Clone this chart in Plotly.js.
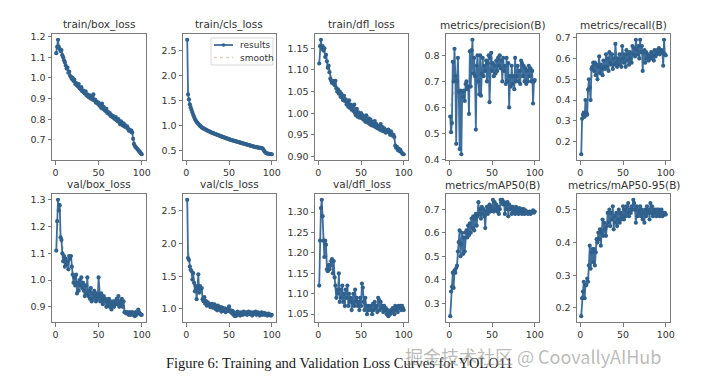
<!DOCTYPE html>
<html><head><meta charset="utf-8">
<script src="https://cdn.plot.ly/plotly-3.0.1.min.js"></script>
<style>html,body{margin:0;padding:0;background:#fff;} #chart{width:720px;height:381px;}</style>
</head><body><div id="chart"></div>
<script>
const epochs = Array.from({length: 100}, (_, i) => i + 1);

const trainBoxLoss = [
1.120,1.150,1.185,1.150,1.140,1.130,1.135,1.110,1.100,1.085,
1.075,1.060,1.045,1.050,1.025,1.030,1.010,1.005,0.995,1.000,
0.985,0.990,0.970,0.975,0.965,0.960,0.970,0.950,0.945,0.955,
0.935,0.940,0.930,0.925,0.935,0.915,0.920,0.910,0.905,0.915,
0.900,0.905,0.895,0.920,0.890,0.895,0.880,0.885,0.875,0.880,
0.865,0.870,0.855,0.875,0.850,0.860,0.845,0.840,0.850,0.830,
0.835,0.825,0.830,0.815,0.820,0.810,0.815,0.805,0.800,0.810,
0.795,0.790,0.800,0.785,0.775,0.790,0.775,0.770,0.780,0.765,
0.770,0.760,0.765,0.755,0.745,0.750,0.740,0.745,0.735,0.705,
0.680,0.670,0.665,0.660,0.655,0.650,0.645,0.640,0.635,0.630];

const trainClsLoss = [
2.72,1.62,1.52,1.42,1.36,1.31,1.26,1.21,1.17,1.13,
1.10,1.07,1.05,1.03,1.01,0.99,0.98,0.96,0.95,0.94,
0.93,0.92,0.91,0.905,0.89,0.885,0.875,0.87,0.86,0.85,
0.845,0.84,0.83,0.825,0.82,0.81,0.805,0.80,0.79,0.785,
0.78,0.77,0.765,0.76,0.755,0.745,0.74,0.735,0.73,0.72,
0.715,0.71,0.705,0.70,0.695,0.69,0.685,0.68,0.675,0.67,
0.665,0.66,0.655,0.65,0.645,0.64,0.635,0.63,0.625,0.62,
0.615,0.61,0.605,0.60,0.595,0.59,0.585,0.58,0.575,0.57,
0.565,0.565,0.56,0.555,0.555,0.55,0.55,0.545,0.54,0.52,
0.49,0.465,0.45,0.44,0.435,0.43,0.43,0.425,0.42,0.42];

const trainDflLoss = [
1.115,1.155,1.170,1.150,1.155,1.145,1.150,1.130,1.135,1.120,
1.105,1.110,1.095,1.080,1.075,1.070,1.075,1.068,1.065,1.075,
1.058,1.050,1.055,1.045,1.050,1.038,1.045,1.035,1.030,1.040,
1.028,1.032,1.020,1.025,1.015,1.030,1.012,1.020,1.008,1.015,
1.005,1.020,1.000,0.995,1.010,0.992,1.002,0.990,0.998,1.000,
0.988,0.995,0.985,0.990,0.980,0.995,0.982,0.978,0.988,0.975,
0.985,0.972,0.980,0.975,0.970,0.982,0.968,0.975,0.965,0.970,
0.968,0.962,0.975,0.960,0.968,0.958,0.965,0.962,0.955,0.960,
0.958,0.962,0.955,0.950,0.958,0.952,0.948,0.950,0.945,0.925,
0.920,0.922,0.915,0.918,0.912,0.915,0.910,0.908,0.905,0.905];

const precisionB = [
0.565,0.505,0.540,0.775,0.700,0.825,0.720,0.460,0.700,0.790,
0.660,0.440,0.665,0.420,0.660,0.640,0.665,0.625,0.690,0.700,
0.670,0.680,0.575,0.815,0.680,0.820,0.860,0.730,0.790,0.720,
0.515,0.760,0.800,0.700,0.650,0.800,0.645,0.730,0.790,0.720,
0.760,0.740,0.780,0.700,0.770,0.800,0.620,0.790,0.810,0.740,
0.770,0.720,0.760,0.730,0.780,0.740,0.790,0.760,0.800,0.750,
0.780,0.700,0.790,0.740,0.760,0.690,0.790,0.700,0.770,0.600,
0.720,0.680,0.760,0.690,0.720,0.670,0.790,0.700,0.720,0.760,
0.700,0.740,0.690,0.780,0.770,0.720,0.760,0.700,0.750,0.690,
0.740,0.700,0.760,0.720,0.750,0.700,0.740,0.615,0.700,0.705];

const recallB = [
0.140,0.310,0.330,0.340,0.320,0.400,0.340,0.330,0.450,0.500,
0.460,0.400,0.550,0.560,0.580,0.540,0.580,0.520,0.570,0.500,
0.560,0.610,0.530,0.570,0.550,0.520,0.590,0.560,0.550,0.620,
0.560,0.600,0.540,0.630,0.580,0.570,0.620,0.550,0.600,0.570,
0.670,0.580,0.560,0.600,0.570,0.620,0.590,0.560,0.660,0.600,
0.580,0.620,0.560,0.640,0.590,0.620,0.570,0.630,0.600,0.580,
0.660,0.620,0.650,0.610,0.690,0.640,0.620,0.660,0.600,0.690,
0.630,0.660,0.540,0.630,0.640,0.580,0.630,0.600,0.620,0.590,
0.610,0.600,0.630,0.600,0.620,0.590,0.640,0.610,0.620,0.640,
0.630,0.650,0.620,0.640,0.640,0.630,0.565,0.690,0.620,0.615];

const valBoxLoss = [
1.110,1.220,1.300,1.260,1.280,1.160,1.150,1.100,1.070,1.090,
1.050,1.080,1.060,1.070,1.040,1.090,1.080,1.090,1.050,1.020,
0.990,1.010,0.980,1.020,0.950,0.990,0.960,1.000,0.980,1.010,
0.970,0.990,0.960,0.940,0.980,0.950,1.010,0.940,0.960,0.930,
0.970,0.920,0.950,0.930,0.960,0.940,0.920,0.950,0.930,1.010,
0.940,0.920,0.950,0.930,0.910,0.940,0.920,0.930,0.900,0.920,
0.910,0.930,0.900,0.920,0.890,0.910,0.920,0.900,0.920,0.910,
0.930,0.910,0.940,0.900,0.920,0.910,0.930,0.900,0.920,0.880,
0.880,0.875,0.880,0.875,0.870,0.880,0.870,0.875,0.880,0.870,
0.875,0.865,0.880,0.870,0.875,0.890,0.880,0.875,0.870,0.870];

const valClsLoss = [
2.670,1.780,1.750,1.650,1.600,1.580,1.450,1.550,1.400,1.270,
1.350,1.150,1.320,1.530,1.250,1.350,1.300,1.320,1.150,1.120,
1.180,1.080,1.120,1.050,1.100,1.060,1.080,1.030,1.060,1.080,
1.020,1.050,1.070,1.000,1.040,0.980,1.050,1.010,0.990,1.030,
0.960,1.020,0.990,0.970,1.010,0.950,0.990,1.000,0.970,1.040,
0.960,0.980,0.940,0.970,0.910,0.950,0.890,0.930,0.900,0.960,
0.920,0.940,0.900,0.950,0.930,0.910,0.960,0.920,0.940,0.950,
0.910,0.930,0.960,0.920,0.950,0.930,0.900,0.950,0.920,0.940,
0.960,0.910,0.930,0.950,0.920,0.900,0.930,0.950,0.910,0.920,
0.940,0.910,0.930,0.920,0.900,0.930,0.920,0.910,0.900,0.910];

const valDflLoss = [
1.120,1.230,1.310,1.330,1.290,1.230,1.190,1.230,1.220,1.160,
1.155,1.170,1.160,1.170,1.180,1.185,1.150,1.180,1.140,1.120,
1.090,1.110,1.100,1.150,1.080,1.110,1.090,1.120,1.080,1.100,
1.070,1.110,1.090,1.120,1.070,1.100,1.080,1.090,1.060,1.080,
1.100,1.070,1.110,1.080,1.090,1.070,1.080,1.060,1.090,1.070,
1.125,1.115,1.080,1.060,1.090,1.070,1.050,1.070,1.060,1.065,
1.070,1.060,1.050,1.075,1.060,1.080,1.065,1.070,1.055,1.090,
1.085,1.060,1.080,1.065,1.070,1.055,1.070,1.060,1.065,1.050,
1.060,1.045,1.055,1.050,1.060,1.055,1.065,1.060,1.050,1.070,
1.060,1.065,1.055,1.070,1.065,1.070,1.060,1.070,1.065,1.060];

const mAP50B = [
0.245,0.350,0.370,0.430,0.365,0.440,0.430,0.450,0.460,0.520,
0.560,0.610,0.500,0.550,0.600,0.510,0.580,0.520,0.600,0.610,
0.580,0.630,0.590,0.640,0.600,0.660,0.620,0.670,0.610,0.660,
0.680,0.630,0.670,0.730,0.680,0.700,0.660,0.710,0.680,0.700,
0.670,0.620,0.690,0.710,0.680,0.700,0.720,0.690,0.710,0.700,
0.740,0.690,0.730,0.700,0.720,0.690,0.710,0.680,0.700,0.740,
0.730,0.740,0.720,0.730,0.680,0.720,0.700,0.730,0.670,0.720,
0.700,0.710,0.680,0.710,0.690,0.700,0.680,0.710,0.690,0.700,
0.680,0.705,0.690,0.700,0.680,0.690,0.700,0.680,0.695,0.685,
0.690,0.680,0.685,0.690,0.680,0.685,0.690,0.695,0.685,0.690];

const mAP5095B = [
0.175,0.230,0.250,0.280,0.230,0.270,0.270,0.290,0.280,0.330,
0.390,0.320,0.370,0.380,0.340,0.380,0.330,0.370,0.410,0.400,
0.430,0.410,0.440,0.390,0.430,0.470,0.420,0.460,0.440,0.420,
0.450,0.490,0.460,0.500,0.450,0.490,0.470,0.510,0.440,0.480,
0.460,0.490,0.450,0.470,0.500,0.460,0.490,0.470,0.480,0.510,
0.470,0.500,0.480,0.510,0.490,0.520,0.480,0.500,0.490,0.510,
0.500,0.530,0.520,0.500,0.460,0.510,0.480,0.500,0.490,0.510,
0.480,0.500,0.470,0.490,0.460,0.500,0.480,0.510,0.490,0.500,
0.470,0.520,0.490,0.510,0.480,0.500,0.490,0.500,0.480,0.500,
0.490,0.500,0.480,0.490,0.500,0.480,0.490,0.485,0.490,0.485];

const panelTitles = ["train/box_loss","train/cls_loss","train/dfl_loss","metrics/precision(B)","metrics/recall(B)",
                     "val/box_loss","val/cls_loss","val/dfl_loss","metrics/mAP50(B)","metrics/mAP50-95(B)"];
const panelSeries = [trainBoxLoss, trainClsLoss, trainDflLoss, precisionB, recallB,
                     valBoxLoss, valClsLoss, valDflLoss, mAP50B, mAP5095B];
const yTickVals = [
  [0.7,0.8,0.9,1.0,1.1,1.2],
  [0.5,1.0,1.5,2.0,2.5],
  [0.90,0.95,1.00,1.05,1.10,1.15],
  [0.4,0.5,0.6,0.7,0.8],
  [0.2,0.3,0.4,0.5,0.6,0.7],
  [0.9,1.0,1.1,1.2,1.3],
  [1.0,1.5,2.0,2.5],
  [1.05,1.10,1.15,1.20,1.25,1.30],
  [0.3,0.4,0.5,0.6,0.7],
  [0.2,0.3,0.4,0.5]];
const yTickDigits = [1,1,2,1,1,1,1,2,1,1];
const xTickVals = [0, 50, 100];
const legendNames = ["results", "smooth"];
const captionText = "Figure 6: Training and Validation Loss Curves for YOLO11";
const watermarkText = "掘金技术社区 @ CoovallyAIHub";

// Gaussian smoothing (sigma 3, reflect), as used for the "smooth" curve
function gaussSmooth(arr, sigma) {
  const r = Math.round(4 * sigma), n = arr.length;
  const w = []; let s = 0;
  for (let k = -r; k <= r; k++) { const v = Math.exp(-0.5 * k * k / (sigma * sigma)); w.push(v); s += v; }
  return arr.map((_, i) => {
    let acc = 0;
    for (let k = -r; k <= r; k++) {
      let j = i + k;
      while (j < 0 || j >= n) { if (j < 0) j = -j - 1; if (j >= n) j = 2 * n - j - 1; }
      acc += arr[j] * w[k + r];
    }
    return acc / s;
  });
}

const W = 720, H = 381;
const colsPx = [[52,146],[183,276],[315,408],[446,539],[577,670]];
const rowsPx = [[34,160],[194,322]];
const lineColor = '#3d6e9c';
const markerColor = '#30608c';
const smoothColor = 'rgba(200,180,145,0.6)';
const axisColor = '#7a7a7a';
const textColor = '#333333';

const traces = [];
const layout = {
  width: W, height: H,
  margin: {l: 0, r: 0, t: 0, b: 0},
  paper_bgcolor: '#ffffff', plot_bgcolor: '#ffffff',
  showlegend: false,
  annotations: [], shapes: [], font: {family: 'DejaVu Sans', color: textColor}
};

panelSeries.forEach((ys, p) => {
  const row = Math.floor(p / 5), col = p % 5;
  const idx = p === 0 ? '' : String(p + 1);
  const xa = 'x' + idx, ya = 'y' + idx;
  traces.push({
    x: epochs, y: gaussSmooth(ys, 3), xaxis: xa, yaxis: ya, type: 'scatter', mode: 'lines',
    name: legendNames[1], line: {color: smoothColor, width: 1.5, dash: 'dot'}
  });
  traces.push({
    x: epochs, y: ys, xaxis: xa, yaxis: ya, type: 'scatter', mode: 'lines+markers',
    name: legendNames[0],
    line: {color: lineColor, width: 1.8},
    marker: {color: markerColor, size: 4.2}
  });
  const mn = Math.min(...ys), mx = Math.max(...ys), sp = mx - mn;
  const [cx0, cx1] = colsPx[col], [ry0, ry1] = rowsPx[row];
  const axBase = {
    showline: true, mirror: true, linecolor: axisColor, linewidth: 1,
    ticks: 'outside', ticklen: 3.5, tickcolor: axisColor, tickwidth: 1,
    showgrid: false, zeroline: false,
    tickfont: {family: 'DejaVu Sans', size: 9.5, color: textColor}
  };
  layout['xaxis' + idx] = Object.assign({}, axBase, {
    domain: [cx0 / W, cx1 / W], anchor: ya,
    range: [1 - 0.05 * 99, 100 + 0.05 * 99],
    tickmode: 'array', tickvals: xTickVals, ticktext: xTickVals.map(String)
  });
  layout['yaxis' + idx] = Object.assign({}, axBase, {
    domain: [1 - ry1 / H, 1 - ry0 / H], anchor: xa,
    range: [mn - 0.05 * sp, mx + 0.05 * sp],
    tickmode: 'array', tickvals: yTickVals[p],
    ticktext: yTickVals[p].map(v => v.toFixed(yTickDigits[p]))
  });
  layout.annotations.push({
    text: panelTitles[p], xref: 'paper', yref: 'paper',
    x: (cx0 + cx1) / 2 / W, y: 1 - (ry0 - 1) / H, xanchor: 'center', yanchor: 'bottom',
    showarrow: false, font: {family: 'DejaVu Sans', size: 10.5, color: textColor}
  });
});

// legend drawn inside the train/cls_loss panel (paper pixels)
const px = v => v / W, py = v => 1 - v / H;
layout.shapes.push({type: 'rect', xref: 'paper', yref: 'paper', x0: px(211), x1: px(273), y0: py(38), y1: py(65),
  fillcolor: 'rgba(255,255,255,0.85)', line: {color: '#d8d8d8', width: 1}});
layout.shapes.push({type: 'line', xref: 'paper', yref: 'paper', x0: px(214), x1: px(233), y0: py(45), y1: py(45),
  line: {color: lineColor, width: 1.8}});
layout.shapes.push({type: 'circle', xref: 'paper', yref: 'paper', x0: px(221.7), x1: px(225.3), y0: py(43.2), y1: py(46.8),
  fillcolor: markerColor, line: {color: markerColor, width: 0}});
layout.shapes.push({type: 'line', xref: 'paper', yref: 'paper', x0: px(214), x1: px(233), y0: py(57.5), y1: py(57.5),
  line: {color: smoothColor, width: 1.5, dash: 'dot'}});
layout.annotations.push({text: legendNames[0], xref: 'paper', yref: 'paper', x: px(238), y: py(45),
  xanchor: 'left', yanchor: 'middle', showarrow: false, font: {family: 'DejaVu Sans', size: 9, color: textColor}});
layout.annotations.push({text: legendNames[1], xref: 'paper', yref: 'paper', x: px(238), y: py(57.5),
  xanchor: 'left', yanchor: 'middle', showarrow: false, font: {family: 'DejaVu Sans', size: 9, color: textColor}});

layout.annotations.push({
  text: captionText, xref: 'paper', yref: 'paper', x: px(164), y: py(363),
  xanchor: 'left', yanchor: 'middle', showarrow: false,
  font: {family: 'Liberation Serif', size: 14.5, color: '#1a1a1a'}
});
layout.annotations.push({
  text: watermarkText, xref: 'paper', yref: 'paper', x: px(403), y: py(356),
  xanchor: 'left', yanchor: 'middle', showarrow: false,
  font: {family: 'Noto Sans CJK SC', size: 18, color: 'rgba(140,140,140,0.6)'}
});

Plotly.newPlot('chart', traces, layout, {staticPlot: true, displayModeBar: false});
</script>
</body></html>
